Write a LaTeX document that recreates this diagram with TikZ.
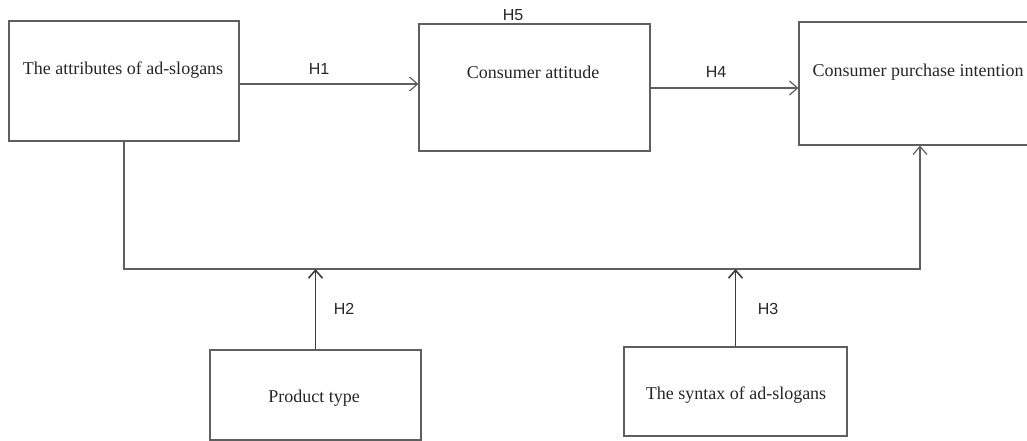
\documentclass[tikz,border=0pt]{standalone}
\usepackage{fontspec}
\setmainfont{Liberation Serif}
\newfontfamily\hypfont{Liberation Sans}
\usetikzlibrary{arrows.meta}
\definecolor{linegray}{RGB}{95,95,95}
\definecolor{darkline}{RGB}{60,60,60}
\tikzset{
  box/.style={draw=linegray, line width=1.2pt, rectangle, inner sep=0pt},
  boxtext/.style={font=\fontsize{18}{20}\selectfont, text=black!85, inner sep=0pt},
  hyp/.style={font=\hypfont\fontsize{16}{18}\selectfont, text=black!85, inner sep=0pt},
  link/.style={draw=linegray, line width=1.2pt, -{Straight Barb[length=8pt,width=14pt]}},
  uplink/.style={link, draw=darkline, line width=1.6pt},
}
\begin{document}
\begin{tikzpicture}[x=1pt,y=1pt,yscale=-1]
\useasboundingbox (0,0) rectangle (1027,441);
% boxes
\node[box, minimum width=230pt, minimum height=120pt] (attr) at (124,81) {};
\node[box, minimum width=231pt, minimum height=127pt] (attitude) at (534.5,87.5) {};
\node[box, minimum width=236pt, minimum height=123pt] (intent) at (917,83.5) {};
\node[box, minimum width=211pt, minimum height=90pt] (ptype) at (315.5,395) {};
\node[box, minimum width=223pt, minimum height=89pt] (syntax) at (735.5,391.5) {};
% box texts
\node[boxtext] (attrtext) at (123,70) {The attributes of ad-slogans};
\node[boxtext] (attitudetext) at (533,72) {Consumer attitude};
\node[boxtext] (intenttext) at (918,72) {Consumer purchase intention};
\node[boxtext] (ptypetext) at (314,398) {Product type};
\node[boxtext] (syntaxtext) at (736,395) {The syntax of ad-slogans};
% helper points
\coordinate (h1y) at (0,84);
\coordinate (h4y) at (0,88);
\coordinate (busR) at (920,269);
% connectors
\draw[link] (attr.east |- h1y) -- (attitude.west |- h1y);
\draw[link] (attitude.east |- h4y) -- (intent.west |- h4y);
\draw[link] (attr.south) -- (attr.south |- busR) -- (busR) -- (busR |- intent.south);
\draw[uplink] (ptype.north) -- (ptype.north |- busR);
\draw[uplink] (syntax.north) -- (syntax.north |- busR);
% hypotheses
\node[hyp] (h1) at (319,69) {H1};
\node[hyp] (h2) at (344,309) {H2};
\node[hyp] (h3) at (768,309) {H3};
\node[hyp] (h4) at (716,72) {H4};
\node[hyp] (h5) at (513,15) {H5};
\end{tikzpicture}
\end{document}
